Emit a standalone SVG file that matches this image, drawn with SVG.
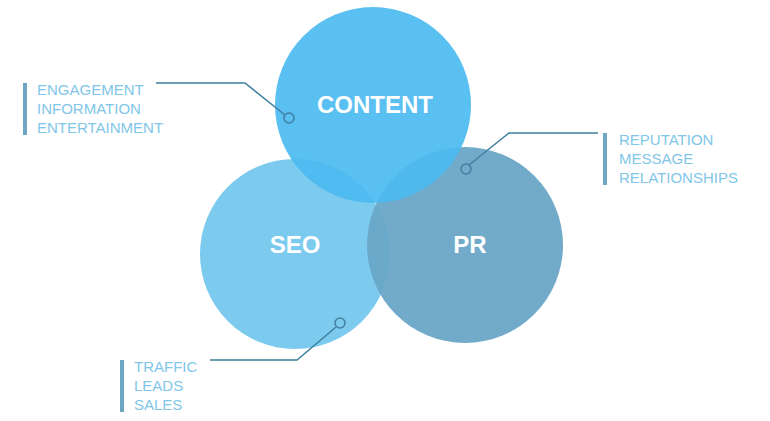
<svg xmlns="http://www.w3.org/2000/svg" width="770" height="421" viewBox="0 0 770 421">
<style>
.lbl{font-family:"Liberation Sans",Arial,sans-serif;font-size:15px;fill:#7fc6e8}
.big{font-family:"Liberation Sans",Arial,sans-serif;font-size:24px;font-weight:bold;fill:#fff;text-anchor:middle}
.bar{fill:#6fa6c4}
.con{fill:none;stroke:#3f7f9f;stroke-width:1.5}
</style>
<rect width="770" height="421" fill="#fff"/>
<g id="seo"><circle cx="295" cy="254" r="95" fill="#7ccbef"/><text class="big" x="295" y="253">SEO</text></g>
<g id="pr"><circle cx="465" cy="245" r="98" fill="#6aa7c7" fill-opacity="0.95"/><text class="big" x="470" y="253">PR</text></g>
<g id="content"><circle cx="373" cy="105" r="98" fill="#4cbaf0" fill-opacity="0.92"/><text class="big" x="375" y="113">CONTENT</text></g>
<g id="connectors">
<polyline class="con" points="156,83 245,83 285,115"/><circle class="con" cx="289" cy="118" r="5"/>
<polyline class="con" points="598,133 509,133 469,165"/><circle class="con" cx="466" cy="169" r="5"/>
<polyline class="con" points="210,360 297,360 336,327"/><circle class="con" cx="340" cy="323" r="5"/>
</g>
<g id="label-content"><rect class="bar" x="23" y="83" width="4" height="52"/>
<text class="lbl" x="37" y="95">ENGAGEMENT</text><text class="lbl" x="37" y="114">INFORMATION</text><text class="lbl" x="37" y="133">ENTERTAINMENT</text></g>
<g id="label-pr"><rect class="bar" x="603" y="133" width="4" height="52"/>
<text class="lbl" x="619" y="145">REPUTATION</text><text class="lbl" x="619" y="164">MESSAGE</text><text class="lbl" x="619" y="183">RELATIONSHIPS</text></g>
<g id="label-seo"><rect class="bar" x="120" y="360" width="4" height="52"/>
<text class="lbl" x="134" y="372">TRAFFIC</text><text class="lbl" x="134" y="391">LEADS</text><text class="lbl" x="134" y="410">SALES</text></g>
</svg>
